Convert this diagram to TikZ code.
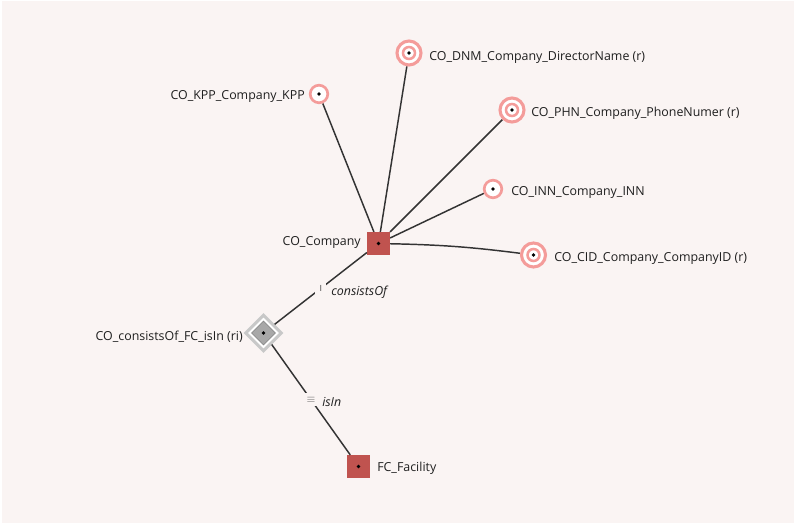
\documentclass[tikz,border=0pt]{standalone}
\usepackage{fontspec}
\setmainfont{Open Sans}
\usetikzlibrary{shapes.geometric,backgrounds}
\definecolor{bg}{HTML}{FAF4F3}
\definecolor{ringc}{HTML}{F49C9A}
\definecolor{sqc}{HTML}{C0534F}
\definecolor{edgec}{HTML}{333333}
\definecolor{diaouter}{HTML}{C8C8C8}
\definecolor{diainner}{HTML}{A8A8A8}
\definecolor{diaborder}{HTML}{8A8A8A}
\tikzset{
  lbl/.style={font=\fontsize{9.3}{11}\selectfont, text=black!88, inner sep=0pt},
  rlbl/.style={font=\fontsize{9.3}{11}\selectfont\itshape, text=black!88, inner sep=0pt},
  ringone/.style={circle, draw=ringc, line width=2pt, fill=white, minimum size=13.2pt, inner sep=0pt},
  ringtwo/.style={circle, draw=ringc, line width=2.3pt, fill=white, minimum size=18pt, inner sep=0pt},
  entity/.style={rectangle, fill=sqc, minimum size=17pt, inner sep=0pt},
  reldia/.style={diamond, draw=diaouter, line width=2.2pt, fill=white, minimum width=27.5pt, minimum height=27.5pt, inner sep=0pt},
  conn/.style={draw=edgec, line width=1.1pt},
  card/.style={fill=bg, inner sep=3pt, font=\fontsize{8.5}{9}\selectfont, text=black!60},
}
\newcommand{\centerdot}[1]{\fill[black] (#1.center) circle (1.35pt);}
\begin{document}
\begin{tikzpicture}[x=0.75pt,y=-0.75pt]
\useasboundingbox (0,0) rectangle (794,523);
\begin{scope}[on background layer]
  \fill[bg] (2,1) rectangle (794,523);
\end{scope}
% entities
\node[entity] (comp) at (378.5,243.5) {};
\node[entity] (fac) at (358.5,466.5) {};
% relationship diamond
\node[reldia] (dia) at (263.5,333) {};
\node[diamond, fill=diainner, draw=diaborder, line width=0.6pt, minimum width=18pt, minimum height=18pt, inner sep=0pt] (diain) at (dia.center) {};
% attributes
\node[ringone] (kpp) at (319,94) {};
\node[ringtwo] (dnm) at (409,53) {};
\node[ringtwo] (phn) at (512,110) {};
\node[ringone] (inn) at (493,189) {};
\node[ringtwo] (cid) at (533.5,255) {};
\foreach \n in {dnm,phn,cid}{\draw[ringc, line width=1.9pt] (\n.center) circle (4.5pt);}
\foreach \n in {comp,fac,diain,kpp,dnm,phn,inn,cid}{\centerdot{\n}}
% labels
\node[lbl, anchor=east] (kppl) at (305,97) {CO\_KPP\_Company\_KPP};
\node[lbl, anchor=west] (dnml) at (429,57) {CO\_DNM\_Company\_DirectorName (r)};
\node[lbl, anchor=west] (phnl) at (531,113) {CO\_PHN\_Company\_PhoneNumer (r)};
\node[lbl, anchor=west] (innl) at (511,192) {CO\_INN\_Company\_INN};
\node[lbl, anchor=west] (cidl) at (554,258) {CO\_CID\_Company\_CompanyID (r)};
\node[lbl, anchor=east] (compl) at (361,242) {CO\_Company};
\node[lbl, anchor=east] (dial) at (243,337) {CO\_consistsOf\_FC\_isIn (ri)};
\node[lbl, anchor=west] (facl) at (377,468) {FC\_Facility};
% connectors
\begin{scope}[on background layer]
  \draw[conn] (comp) -- (kpp);
  \draw[conn] (comp) -- (dnm);
  \draw[conn] (comp) -- (phn);
  \draw[conn] (comp) -- (inn);
  \draw[conn] (comp) to[bend left=3] (cid);
\end{scope}
\draw[conn] (comp) -- node[card] (m1) {ı} (dia);
\draw[conn] (dia) -- node[card] (m2) {$\equiv$} (fac);
\node[rlbl, anchor=west] (r1) at (331,292) {consistsOf};
\node[rlbl, anchor=west] (r2) at (322,402) {isIn};
\end{tikzpicture}
\end{document}
